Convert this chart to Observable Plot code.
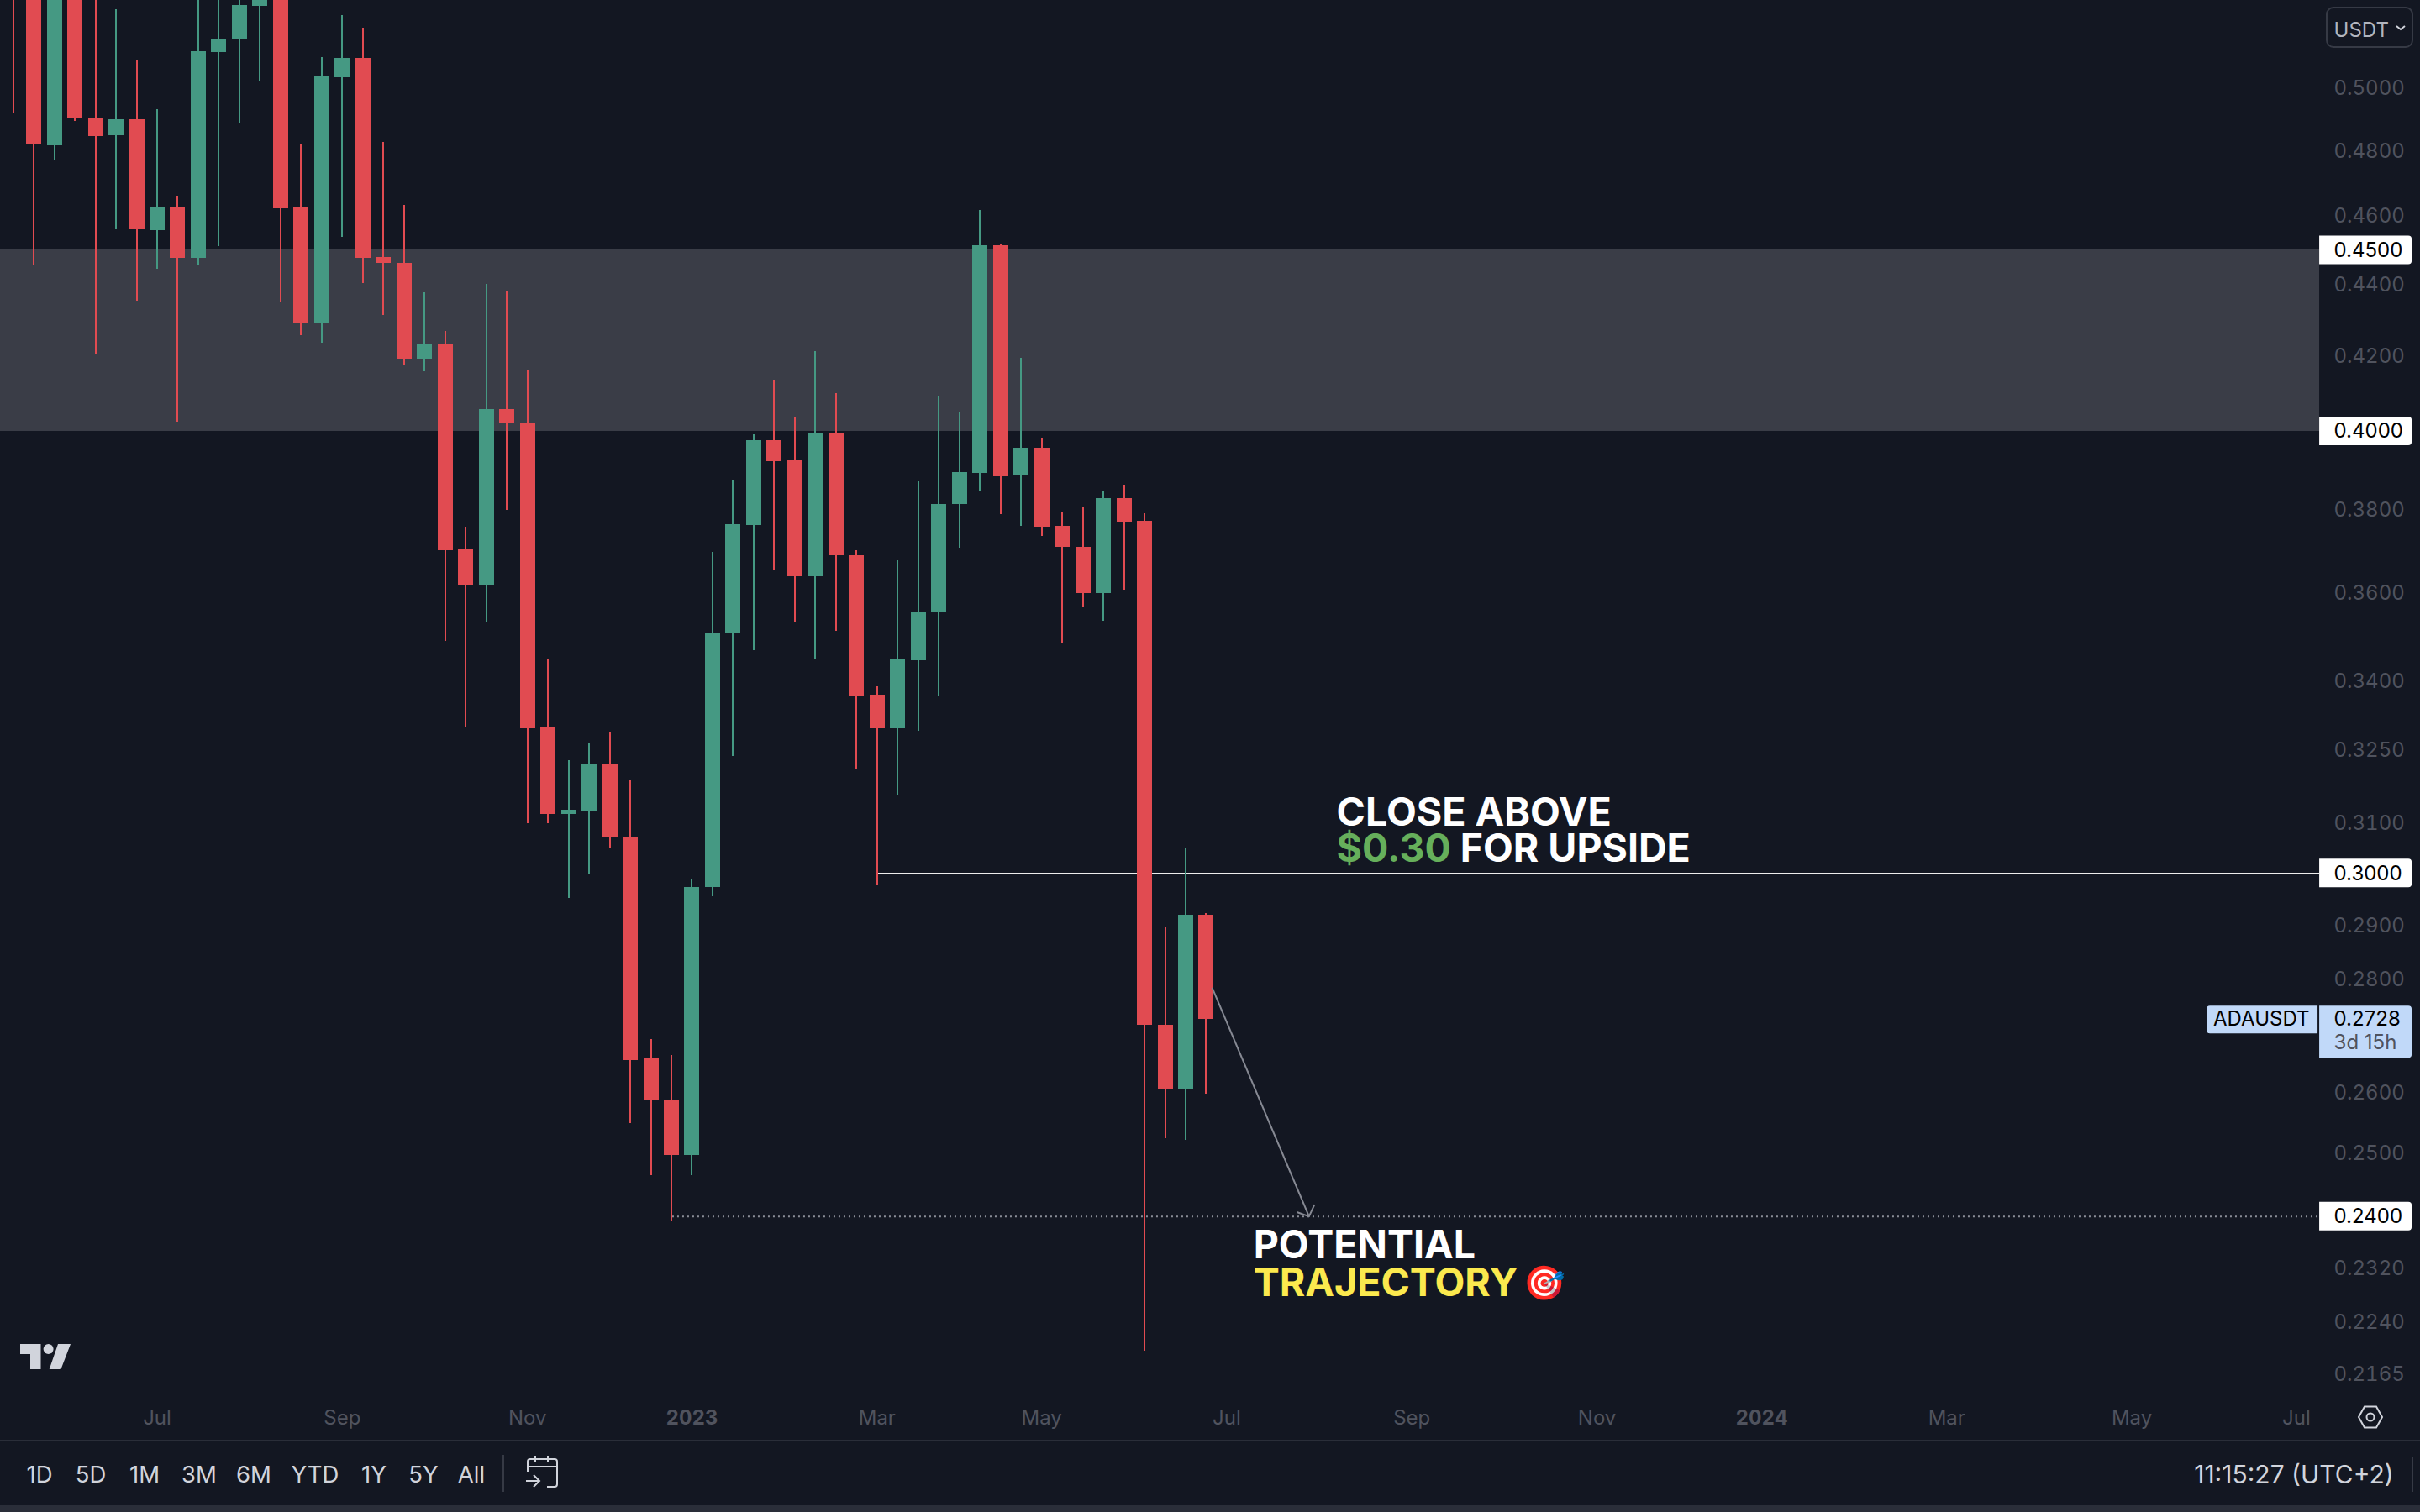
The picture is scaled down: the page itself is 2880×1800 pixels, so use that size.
<!DOCTYPE html>
<html>
<head>
<meta charset="utf-8">
<script src="https://cdn.jsdelivr.net/npm/d3@7"></script>
<script src="https://cdn.jsdelivr.net/npm/@observablehq/plot@0.6"></script>
<style>
html,body{margin:0;padding:0;background:#131722;overflow:hidden;font-family:Inter,sans-serif}
#chart svg{display:block}
#footer{position:relative;width:2880px;height:86px;background:#131722;border-top:2px solid #2A2E39;box-sizing:border-box}
#footer span{position:absolute;top:39px;transform:translate(-50%,-50%);font-size:27.5px;color:#D1D4DC;white-space:nowrap}
#strip{position:absolute;left:0;right:0;bottom:0;height:8px;background:#2A2E39}
.vr{position:absolute;width:2px;background:#363A45}
</style>
</head>
<body>
<div id="chart"></div>
<div id="footer">
  <span style="left:47px">1D</span><span style="left:108px">5D</span><span style="left:172px">1M</span>
  <span style="left:237px">3M</span><span style="left:302px">6M</span><span style="left:375px">YTD</span>
  <span style="left:445px">1Y</span><span style="left:504px">5Y</span><span style="left:561px">All</span>
  <div class="vr" style="left:598px;top:16px;height:44px"></div>
  <svg style="position:absolute;left:622px;top:16px" width="46" height="44" viewBox="0 0 46 44" fill="none" stroke="#D1D4DC" stroke-width="2">
    <path d="M6 20V8a3 3 0 0 1 3-3h29a3 3 0 0 1 3 3v27a3 3 0 0 1-3 3h-9"/>
    <path d="M6 14h35M15 1v7M30 1v7"/>
    <path d="M4 31h16M13 24l7 7-7 7"/>
  </svg>
  <span style="left:2730px;font-size:30px">11:15:27 (UTC+2)</span>
  <div class="vr" style="left:2870px;top:18px;height:42px"></div>
  <div id="strip"></div>
</div>
<script>
const weeks = ["2022-05-16","2022-05-23","2022-05-30","2022-06-06","2022-06-13","2022-06-20","2022-06-27","2022-07-04","2022-07-11","2022-07-18",
"2022-07-25","2022-08-01","2022-08-08","2022-08-15","2022-08-22","2022-08-29","2022-09-05","2022-09-12","2022-09-19","2022-09-26",
"2022-10-03","2022-10-10","2022-10-17","2022-10-24","2022-10-31","2022-11-07","2022-11-14","2022-11-21","2022-11-28","2022-12-05",
"2022-12-12","2022-12-19","2022-12-26","2023-01-02","2023-01-09","2023-01-16","2023-01-23","2023-01-30","2023-02-06","2023-02-13",
"2023-02-20","2023-02-27","2023-03-06","2023-03-13","2023-03-20","2023-03-27","2023-04-03","2023-04-10","2023-04-17","2023-04-24",
"2023-05-01","2023-05-08","2023-05-15","2023-05-22","2023-05-29","2023-06-05","2023-06-12","2023-06-19","2023-06-26"];
const opens = [.56,.56,.4817,.55,.4904,.4848,.4899,.4558,.4626,.4476,
.5118,.5160,.5274,.55,.4628,.4292,.5035,.5098,.4479,.4462,
.4192,.4231,.3703,.3619,.4057,.4022,.3298,.3118,.3124,.3221,
.3072,.2659,.2589,.2497,.2973,.3506,.3762,.3976,.3924,.3639,
.3993,.3689,.3369,.3296,.3445,.3556,.3814,.3892,.4513,.3886,
.3956,.3760,.3709,.3599,.3829,.3773,.2718,.2607,.2920];
const closes = [.54,.4819,.55,.4901,.4846,.4899,.4560,.4626,.4476,.5121,
.5163,.5277,.54,.4623,.4292,.5037,.5098,.4476,.4462,.4192,
.4231,.3701,.3619,.4057,.4020,.3296,.3118,.3126,.3221,.3072,
.2656,.2589,.2497,.2973,.3506,.3764,.3976,.3922,.3639,.3995,
.3689,.3367,.3296,.3447,.3556,.3814,.3894,.4513,.3883,.3956,
.3758,.3709,.3599,.3829,.3771,.2718,.2607,.2920,.2728];
const highs = [.57,.57,.57,.56,.545,.5262,.5090,.4931,.4661,.54,
.54,.54,.55,.56,.4822,.5101,.5242,.5200,.4827,.4633,
.4377,.4269,.3758,.4401,.4380,.4160,.3449,.3228,.3264,.3289,
.3186,.2693,.2665,.2989,.3697,.3873,.3991,.4135,.4035,.4213,
.4099,.3701,.3388,.3677,.3871,.4093,.4050,.4618,.4516,.4195,
.3980,.3795,.3808,.3846,.3862,.3791,.2896,.3050,.2923];
const lows = [.4918,.4454,.4772,.4893,.4206,.4560,.4353,.4445,.4024,.4457,
.4511,.4888,.5021,.4349,.4257,.4236,.4538,.4404,.4313,.4176,
.4158,.3489,.3300,.3533,.3800,.3099,.3099,.2952,.2999,.3050,
.2550,.2465,.2392,.2465,.2955,.3237,.3468,.3653,.3533,.3449,
.3512,.3211,.2976,.3157,.3291,.3365,.3707,.3848,.3789,.3760,
.3736,.3485,.3566,.3535,.3607,.2199,.2525,.2522,.2599];

const monthTicks = ["2022-07-04","2022-09-05","2022-11-07","2023-03-06","2023-05-01","2023-07-03","2023-09-04","2023-11-06","2024-03-04","2024-05-06","2024-07-01"];
const yearTicks = ["2023-01-02","2024-01-01"];
const priceTicks = [.5,.48,.46,.44,.42,.38,.36,.34,.325,.31,.29,.28,.26,.25,.232,.224,.2165];
const levelTags = [.45,.40,.30,.24];
const lastPrice = .2728;
const zone = [{lo:.40,hi:.45}];
const paneEnd = new Date("2024-07-08T22:00Z");
const paneStart = new Date("2022-05-11T16:00Z");
const domainEnd = new Date("2024-08-12T05:00Z");
const breakoutStart = new Date("2023-03-06T10:00Z");
const targetStart = new Date("2022-12-26T10:00Z");
const arrowPath = [{x1:new Date("2023-06-28T03:00Z"),y1:.2784,x2:new Date("2023-07-31T00:00Z"),y2:.24}];

const notes = [
 {t:"CLOSE ABOVE",x:"2023-08-09T08:00Z",y:.3120,c:"#FFFFFF"},
 {t:"$0.30",x:"2023-08-09T08:00Z",y:.3048,c:"#66AF5B"},
 {t:"FOR UPSIDE",x:"2023-09-20T10:00Z",y:.3048,c:"#FFFFFF"},
 {t:"POTENTIAL",x:"2023-07-12T02:00Z",y:.2354,c:"#FFFFFF"},
 {t:"TRAJECTORY",x:"2023-07-12T02:00Z",y:.2298,c:"#FBE94E"}
].map(d=>({...d,x:new Date(d.x)}));
const emojiNote = [{t:"🎯",x:new Date("2023-10-11T20:00Z"),y:.2297}];

const candles = weeks.map((w,i)=>({date:new Date(w),open:opens[i],high:highs[i],low:lows[i],close:closes[i]}));
const upColor="#459983", downColor="#E14B51";
const tone = d=>d.close>=d.open?upColor:downColor;
const F = "Inter, sans-serif";
const tagRight = 110;

function priceTags(index,{x,y}){
  const g=d3.create("svg:g");
  const left=x(paneEnd);
  const rr=(top,bot,fill)=>g.append("path").attr("fill",fill)
    .attr("d",`M${left} ${top}H${left+tagRight-4}a4 4 0 0 1 4 4V${bot-4}a4 4 0 0 1-4 4H${left}Z`);
  for(const p of levelTags){const c=y(p); rr(c-17,c+17,"#FFFFFF");}
  const c=y(lastPrice);
  rr(c-16,c+46,"#C1D9F9");
  g.append("path").attr("fill","#C1D9F9").attr("d",`M${left-134+4} ${c-16}H${left-2}V${c+17}H${left-134+4}a4 4 0 0 1-4-4V${c-12}a4 4 0 0 1 4-4Z`);
  return g.node();
}
function chrome(){
  const g=d3.create("svg:g");
  g.append("rect").attr("x",2769).attr("y",9).attr("width",102).attr("height",47).attr("rx",8)
    .attr("fill","none").attr("stroke","#363A45").attr("stroke-width",2);
  g.append("path").attr("d","M2852 31l5 4 5-4").attr("fill","none").attr("stroke","#D1D4DC").attr("stroke-width",2);
  g.append("path").attr("fill","#D1D4DC").attr("d","M24 1600H48.5V1630H36V1612H24ZM69 1600H84L72.5 1630H58.7Z");
  g.append("circle").attr("cx",57.6).attr("cy",1606).attr("r",6).attr("fill","#D1D4DC");
  g.append("path").attr("fill","none").attr("stroke","#D1D4DC").attr("stroke-width",2)
    .attr("d","M2807 1687L2814 1674.5H2828L2835 1687L2828 1699.5H2814Z");
  g.append("circle").attr("cx",2821).attr("cy",1687).attr("r",4.5).attr("fill","none").attr("stroke","#D1D4DC").attr("stroke-width",2);
  return g.node();
}

const plot = Plot.plot({
  width:2880,height:1714,marginTop:0,marginLeft:0,marginBottom:0,marginRight:120,
  style:{background:"#131722",fontFamily:F},
  x:{type:"utc",domain:[paneStart,domainEnd],range:[0,2880],axis:null},
  y:{type:"log",domain:[.20749,.52942],range:[1714,0],axis:null},
  color:{type:"identity"},
  marks:[
    Plot.rect(zone,{x1:()=>paneStart,x2:()=>paneEnd,y1:"lo",y2:"hi",fill:"#3A3D47",shapeRendering:"crispEdges"}),
    Plot.ruleY([.30],{x1:breakoutStart,x2:paneEnd,stroke:"#EDEDED",strokeWidth:2,shapeRendering:"crispEdges"}),
    Plot.ruleY([.24],{x1:targetStart,x2:paneEnd,stroke:"#8B8E98",strokeWidth:2,strokeDasharray:"2 4"}),
    Plot.ruleX(candles,{x:"date",y1:"low",y2:"high",stroke:tone,strokeWidth:2,shapeRendering:"crispEdges"}),
    Plot.ruleX(candles,{x:"date",y1:"open",y2:"close",stroke:tone,strokeWidth:18,shapeRendering:"crispEdges"}),
    Plot.arrow(arrowPath,{x1:"x1",y1:"y1",x2:"x2",y2:"y2",stroke:"#868993",strokeWidth:2,headLength:11,headAngle:95}),
    Plot.text(notes,{x:"x",y:"y",text:"t",fill:"c",fontSize:46.5,fontWeight:700,textAnchor:"start",lineAnchor:"middle",fontFamily:F}),
    Plot.text(emojiNote,{x:"x",y:"y",text:"t",fontSize:40,textAnchor:"start",lineAnchor:"middle"}),
    Plot.axisY(priceTicks,{anchor:"right",tickSize:0,tickPadding:17,tickFormat:d3.format(".4f"),fontSize:24,color:"#50535E",label:null}),
    Plot.axisX(monthTicks.map(d=>new Date(d)),{anchor:"bottom",tickSize:0,tickPadding:-36,tickFormat:d3.utcFormat("%b"),fontSize:24,color:"#50535E",label:null}),
    Plot.axisX(yearTicks.map(d=>new Date(d)),{anchor:"bottom",tickSize:0,tickPadding:-36,tickFormat:d3.utcFormat("%Y"),fontSize:24,fontWeight:700,color:"#50535E",label:null}),
    priceTags,
    Plot.text(levelTags,{x:()=>paneEnd,y:d=>d,text:d3.format(".4f"),dx:17,textAnchor:"start",lineAnchor:"middle",fontSize:24,fill:"#000000",fontFamily:F}),
    Plot.text([lastPrice],{x:()=>paneEnd,y:d=>d,text:d3.format(".4f"),dx:17,textAnchor:"start",lineAnchor:"middle",fontSize:24,fill:"#000000",fontFamily:F}),
    Plot.text(["3d 15h"],{x:()=>paneEnd,y:()=>lastPrice,text:d=>d,dx:17,dy:28,textAnchor:"start",lineAnchor:"middle",fontSize:24,fill:"#50535E",fontFamily:F}),
    Plot.text(["ADAUSDT"],{x:()=>paneEnd,y:()=>lastPrice,text:d=>d,dx:-12,textAnchor:"end",lineAnchor:"middle",fontSize:24,fill:"#000000",fontFamily:F}),
    chrome,
    Plot.text(["USDT"],{x:()=>paneEnd,y:()=>.5192,text:d=>d,dx:17,textAnchor:"start",lineAnchor:"middle",fontSize:24,fill:"#B2B5BE",fontFamily:F})
  ]
});
document.getElementById("chart").appendChild(plot);
</script>
</body>
</html>
